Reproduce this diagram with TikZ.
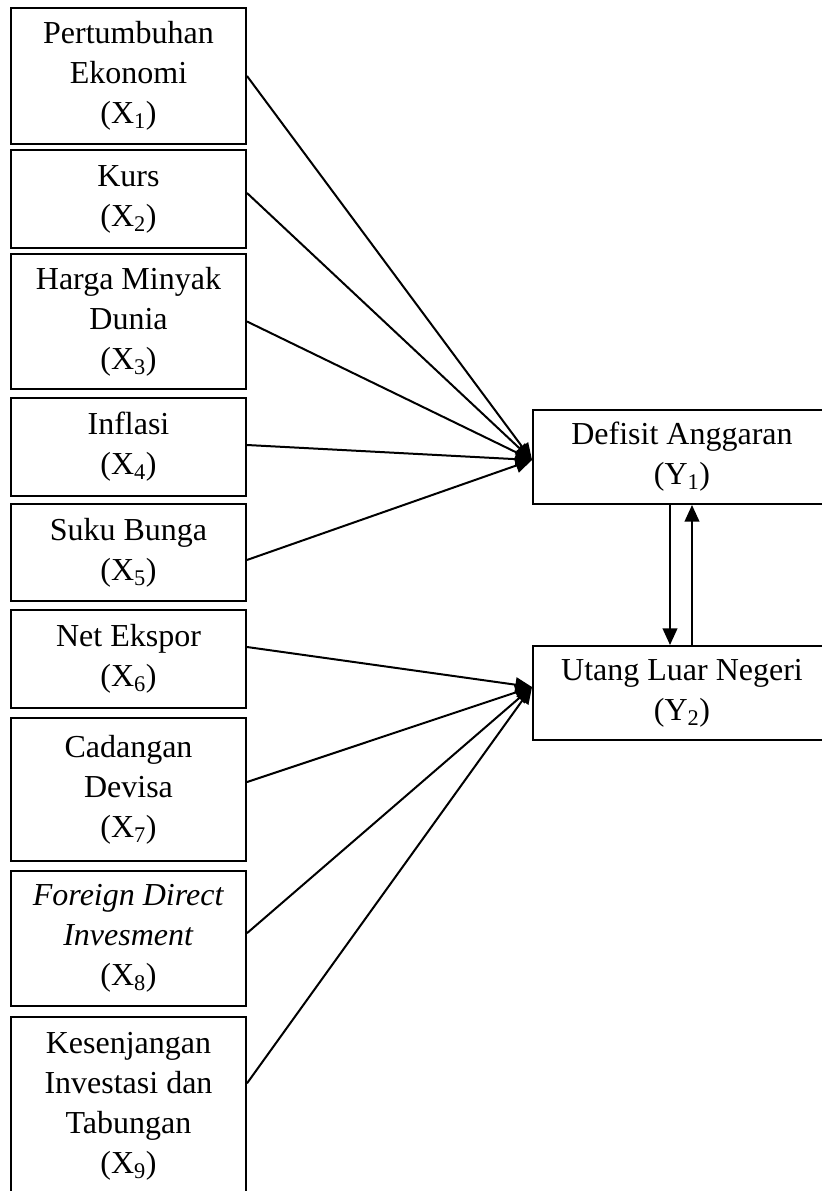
\documentclass[tikz,border=0pt]{standalone}
\usepackage{fontspec}
\setmainfont{Liberation Serif}
\usetikzlibrary{arrows.meta}
\begin{document}
\begin{tikzpicture}[x=0.75pt,y=-0.75pt,
  box/.style={draw,line width=1.5pt,align=center,inner sep=0pt,
    font=\fontsize{24}{30}\selectfont},
  xbox/.style={box,minimum width=176.25pt},
  ybox/.style={box,minimum width=223.5pt,minimum height=70.5pt},
  conn/.style={line width=1.5pt,-{Triangle[length=12.5pt,width=11pt]}}]
\useasboundingbox (0,0) rectangle (821,1191);
\node[xbox,minimum height=102pt]   (x1) at (128.5,76)   {Pertumbuhan\\Ekonomi\\(X\textsubscript{1})};
\node[xbox,minimum height=73.5pt]  (x2) at (128.5,199)  {Kurs\\(X\textsubscript{2})};
\node[xbox,minimum height=101.25pt](x3) at (128.5,321.5){Harga Minyak\\Dunia\\(X\textsubscript{3})};
\node[xbox,minimum height=73.5pt]  (x4) at (128.5,447)  {Inflasi\\(X\textsubscript{4})};
\node[xbox,minimum height=72.75pt] (x5) at (128.5,552.5){Suku Bunga\\(X\textsubscript{5})};
\node[xbox,minimum height=73.5pt]  (x6) at (128.5,659)  {Net Ekspor\\(X\textsubscript{6})};
\node[xbox,minimum height=107.25pt](x7) at (128.5,789.5){Cadangan\\Devisa\\(X\textsubscript{7})};
\node[xbox,minimum height=101.25pt](x8) at (128.5,938.5){\textit{Foreign Direct}\\\textit{Invesment}\\(X\textsubscript{8})};
\node[xbox,minimum height=133.5pt] (x9) at (128.5,1106) {Kesenjangan\\Investasi dan\\Tabungan\\(X\textsubscript{9})};
\node[ybox] (y1) at (682,457) {Defisit Anggaran\\(Y\textsubscript{1})};
\node[ybox] (y2) at (682,693) {Utang Luar Negeri\\(Y\textsubscript{2})};
\draw[conn] (x1.east) -- ([yshift=-2.25pt]y1.west);
\draw[conn] ([yshift=4.5pt]x2.east) -- ([yshift=-2.25pt]y1.west);
\draw[conn] (x3.east) -- ([yshift=-2.25pt]y1.west);
\draw[conn] ([yshift=1.5pt]x4.east) -- ([yshift=-2.25pt]y1.west);
\draw[conn] ([yshift=-5.6pt]x5.east) -- ([yshift=-2.25pt]y1.west);
\draw[conn] ([yshift=9pt]x6.east) -- ([yshift=4.5pt]y2.west);
\draw[conn] ([yshift=5.6pt]x7.east) -- ([yshift=4.5pt]y2.west);
\draw[conn] ([yshift=4pt]x8.east) -- ([yshift=4.5pt]y2.west);
\draw[conn] ([yshift=17pt]x9.east) -- ([yshift=4.5pt]y2.west);
\draw[conn] ([xshift=-9pt]y1.south) -- ([xshift=-9pt]y2.north);
\draw[conn] ([xshift=7.5pt]y2.north) -- ([xshift=7.5pt]y1.south);
\end{tikzpicture}
\end{document}
